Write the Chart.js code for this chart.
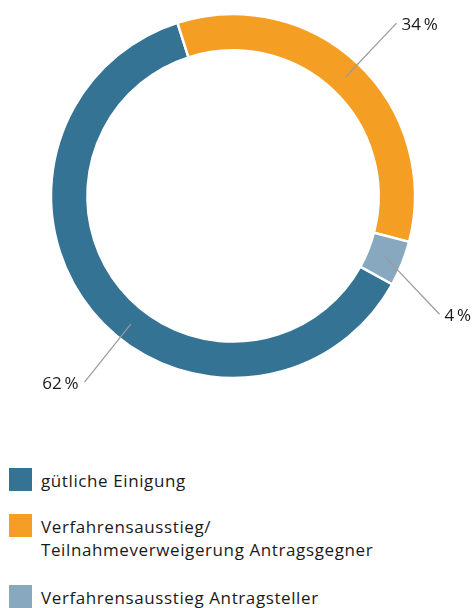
<!DOCTYPE html>
<html>
<head>
<meta charset="utf-8">
<script src="https://cdn.jsdelivr.net/npm/chart.js@4.4.0/dist/chart.umd.min.js"></script>
<style>
  body { margin: 0; background: #fff; font-family: "Open Sans", sans-serif; color: #1a1a1a; }
  #wrap { position: relative; width: 475px; height: 608px; overflow: hidden; }
  #chartBox { position: absolute; left: 0; top: 0; width: 475px; height: 440px; }
  .item { position: absolute; left: 9px; }
  .swatch { position: absolute; left: 0; top: 0; width: 23px; height: 23px; }
  .text { position: absolute; left: 32px; top: 1px; font-size: 17px; letter-spacing: 0.6px; line-height: 23px; white-space: nowrap; }
</style>
</head>
<body>
<div id="wrap">
  <div id="chartBox"><canvas id="pieChart"></canvas></div>
  <div id="legend"></div>
</div>
<script>
var categories = ["gütliche Einigung", "Verfahrensausstieg/\nTeilnahmeverweigerung Antragsgegner", "Verfahrensausstieg Antragsteller"];
var shares = [62, 34, 4];
var percentLabels = ["62\u2009%", "34\u2009%", "4\u2009%"];
var colors = ["#347393", "#f49f24", "#87a8bf"];

// where the leader lines sit, degrees relative to the slice middle
var lineStartShift = [-12, 0, 0];
var lineEndShift = [-12, 0, 8];
var legendTops = [468, 514, 585];

var leaderLabels = {
  id: 'leaderLabels',
  afterDatasetsDraw: function(chart) {
    var ctx = chart.ctx;
    var arcs = chart.getDatasetMeta(0).data;
    ctx.save();
    for (var i = 0; i < arcs.length; i++) {
      var p = arcs[i].getProps(['x', 'y', 'startAngle', 'endAngle', 'innerRadius', 'outerRadius'], true);
      var mid = (p.startAngle + p.endAngle) / 2;
      var a1 = mid + lineStartShift[i] * Math.PI / 180;
      var a2 = mid + lineEndShift[i] * Math.PI / 180;
      var r1 = (p.innerRadius + p.outerRadius) / 2;
      var r2 = p.outerRadius + 56;
      var x1 = p.x + r1 * Math.cos(a1), y1 = p.y + r1 * Math.sin(a1);
      var x2 = p.x + r2 * Math.cos(a2), y2 = p.y + r2 * Math.sin(a2);
      ctx.strokeStyle = '#9a9a9a';
      ctx.lineWidth = 1.2;
      ctx.beginPath();
      ctx.moveTo(x1, y1);
      ctx.lineTo(x2, y2);
      ctx.stroke();
      ctx.fillStyle = '#1a1a1a';
      ctx.font = '17px "Open Sans"';
      ctx.textBaseline = 'alphabetic';
      var right = Math.cos(a2) >= 0;
      ctx.textAlign = right ? 'left' : 'right';
      ctx.fillText(percentLabels[i], x2 + (right ? 5 : -6), y2 + 6.5);
    }
    ctx.restore();
  }
};

function setup() {
  var ctx = document.getElementById("pieChart").getContext('2d');
  new Chart(ctx, {
    type: 'doughnut',
    data: {
      labels: categories,
      datasets: [{
        data: shares,
        backgroundColor: colors,
        borderColor: '#ffffff',
        borderWidth: 2.5,
        hoverOffset: 0
      }]
    },
    options: {
      responsive: true,
      maintainAspectRatio: false,
      animation: false,
      rotation: 119,
      radius: 182,
      cutout: '80%',
      layout: { padding: { left: 0, right: 9, top: 0, bottom: 48 } },
      plugins: {
        legend: { display: false },
        tooltip: { enabled: false }
      }
    },
    plugins: [leaderLabels]
  });

  var html = "";
  for (var i = 0; i < categories.length; i++) {
    html += '<div class="item" style="top:' + legendTops[i] + 'px"><div class="swatch" style="background:' + colors[i] + '"></div>' +
      '<div class="text">' + categories[i].replace("\n", "<br>") + '</div></div>';
  }
  document.getElementById("legend").innerHTML = html;
}

window.onload = setup;
</script>
</body>
</html>
